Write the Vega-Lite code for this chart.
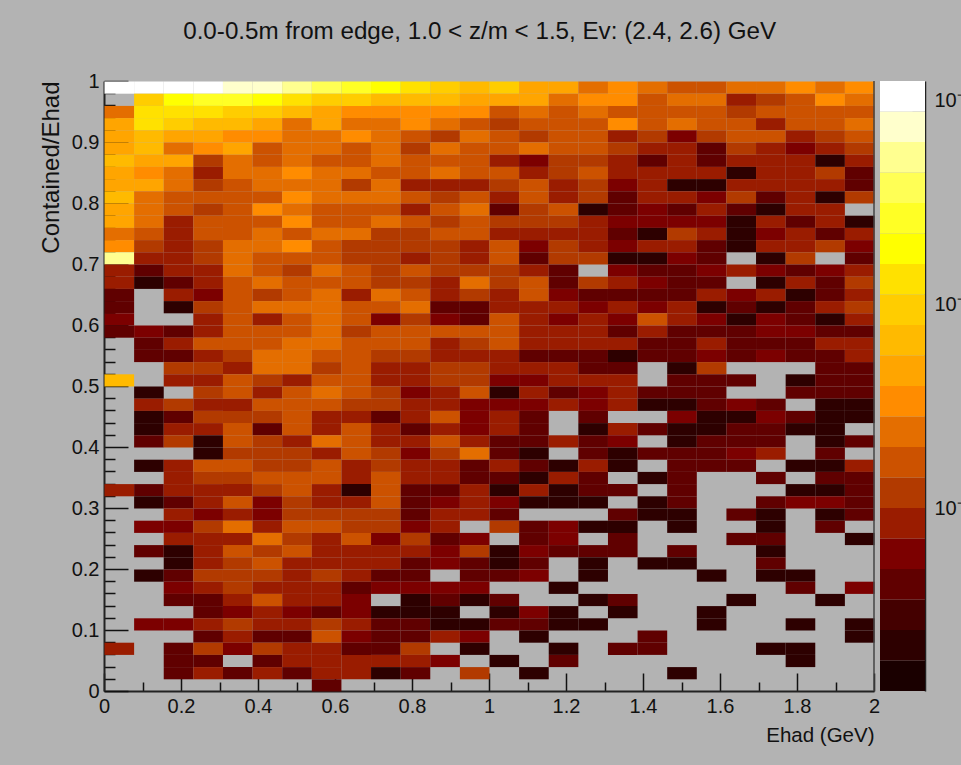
{"$schema":"https://vega.github.io/schema/vega-lite/v6.json","background":"#b3b3b3","padding":{"left":39,"top":19,"right":0,"bottom":26},
"title":{"text":"0.0-0.5m from edge, 1.0 < z/m < 1.5, Ev: (2.4, 2.6) GeV","font":"Liberation Sans","fontSize":24.2,"fontWeight":"normal","color":"#111","anchor":"start","frame":"bounds","dx":144,"offset":27},
"config":{"view":{"stroke":null},"axis":{"labelFont":"Liberation Sans","titleFont":"Liberation Sans","labelColor":"#111","titleColor":"#111","tickColor":"#111","domainColor":"#222","domainWidth":2,"tickWidth":1.5,"grid":false,"labelFontSize":20,"titleFontWeight":"normal","zindex":1}},
"spacing":-2,
"hconcat":[{"width":770,"height":610,
"layer":[{"data":{"values":[
{"x":0.04,"y":0.99,"v":0.105},{"x":0.12,"y":0.99,"v":0.105},{"x":0.19,"y":0.99,"v":0.105},{"x":0.27,"y":0.99,"v":0.105},{"x":0.35,"y":0.99,"v":0.0745},{"x":0.42,"y":0.99,"v":0.0745},{"x":0.5,"y":0.99,"v":0.0528},{"x":0.58,"y":0.99,"v":0.0374},{"x":0.65,"y":0.99,"v":0.0265},{"x":0.73,"y":0.99,"v":0.0188},{"x":0.81,"y":0.99,"v":0.0133},{"x":0.88,"y":0.99,"v":0.00942},{"x":0.96,"y":0.99,"v":0.00667},{"x":1.04,"y":0.99,"v":0.00942},{"x":1.12,"y":0.99,"v":0.00472},{"x":1.19,"y":0.99,"v":0.00472},{"x":1.27,"y":0.99,"v":0.00237},{"x":1.35,"y":0.99,"v":0.00334},{"x":1.42,"y":0.99,"v":0.00237},{"x":1.5,"y":0.99,"v":0.00168},{"x":1.58,"y":0.99,"v":0.00168},{"x":1.65,"y":0.99,"v":0.00237},{"x":1.73,"y":0.99,"v":0.00237},{"x":1.81,"y":0.99,"v":0.00334},{"x":1.88,"y":0.99,"v":0.00237},{"x":1.96,"y":0.99,"v":0.00334},
{"x":0.12,"y":0.97,"v":0.00942},{"x":0.19,"y":0.97,"v":0.0188},{"x":0.27,"y":0.97,"v":0.0265},{"x":0.35,"y":0.97,"v":0.0265},{"x":0.42,"y":0.97,"v":0.0188},{"x":0.5,"y":0.97,"v":0.0133},{"x":0.58,"y":0.97,"v":0.00942},{"x":0.65,"y":0.97,"v":0.00942},{"x":0.73,"y":0.97,"v":0.00667},{"x":0.81,"y":0.97,"v":0.00667},{"x":0.88,"y":0.97,"v":0.00667},{"x":0.96,"y":0.97,"v":0.00472},{"x":1.04,"y":0.97,"v":0.00472},{"x":1.12,"y":0.97,"v":0.00472},{"x":1.19,"y":0.97,"v":0.00237},{"x":1.27,"y":0.97,"v":0.00334},{"x":1.35,"y":0.97,"v":0.00334},{"x":1.42,"y":0.97,"v":0.00168},{"x":1.5,"y":0.97,"v":0.00237},{"x":1.58,"y":0.97,"v":0.00237},{"x":1.65,"y":0.97,"v":0.00084},{"x":1.73,"y":0.97,"v":0.00119},{"x":1.81,"y":0.97,"v":0.00168},{"x":1.88,"y":0.97,"v":0.00334},{"x":1.96,"y":0.97,"v":0.00237},
{"x":0.04,"y":0.95,"v":0.00237},{"x":0.12,"y":0.95,"v":0.0133},{"x":0.19,"y":0.95,"v":0.0133},{"x":0.27,"y":0.95,"v":0.0133},{"x":0.35,"y":0.95,"v":0.00942},{"x":0.42,"y":0.95,"v":0.00942},{"x":0.5,"y":0.95,"v":0.00667},{"x":0.58,"y":0.95,"v":0.00472},{"x":0.65,"y":0.95,"v":0.00334},{"x":0.73,"y":0.95,"v":0.00334},{"x":0.81,"y":0.95,"v":0.00334},{"x":0.88,"y":0.95,"v":0.00334},{"x":0.96,"y":0.95,"v":0.00334},{"x":1.04,"y":0.95,"v":0.00168},{"x":1.12,"y":0.95,"v":0.00237},{"x":1.19,"y":0.95,"v":0.00168},{"x":1.27,"y":0.95,"v":0.00237},{"x":1.35,"y":0.95,"v":0.00168},{"x":1.42,"y":0.95,"v":0.00168},{"x":1.5,"y":0.95,"v":0.00168},{"x":1.58,"y":0.95,"v":0.00168},{"x":1.65,"y":0.95,"v":0.00119},{"x":1.73,"y":0.95,"v":0.00168},{"x":1.81,"y":0.95,"v":0.00168},{"x":1.88,"y":0.95,"v":0.00168},{"x":1.96,"y":0.95,"v":0.00168},
{"x":0.04,"y":0.93,"v":0.00472},{"x":0.12,"y":0.93,"v":0.0133},{"x":0.19,"y":0.93,"v":0.00942},{"x":0.27,"y":0.93,"v":0.00667},{"x":0.35,"y":0.93,"v":0.00667},{"x":0.42,"y":0.93,"v":0.00472},{"x":0.5,"y":0.93,"v":0.00237},{"x":0.58,"y":0.93,"v":0.00472},{"x":0.65,"y":0.93,"v":0.00237},{"x":0.73,"y":0.93,"v":0.00237},{"x":0.81,"y":0.93,"v":0.00334},{"x":0.88,"y":0.93,"v":0.00237},{"x":0.96,"y":0.93,"v":0.00168},{"x":1.04,"y":0.93,"v":0.00119},{"x":1.12,"y":0.93,"v":0.00168},{"x":1.19,"y":0.93,"v":0.00168},{"x":1.27,"y":0.93,"v":0.00168},{"x":1.35,"y":0.93,"v":0.00334},{"x":1.42,"y":0.93,"v":0.00168},{"x":1.5,"y":0.93,"v":0.00237},{"x":1.58,"y":0.93,"v":0.00168},{"x":1.65,"y":0.93,"v":0.00168},{"x":1.73,"y":0.93,"v":0.00084},{"x":1.81,"y":0.93,"v":0.00168},{"x":1.88,"y":0.93,"v":0.00168},{"x":1.96,"y":0.93,"v":0.00237},
{"x":0.04,"y":0.91,"v":0.00472},{"x":0.12,"y":0.91,"v":0.00667},{"x":0.19,"y":0.91,"v":0.00472},{"x":0.27,"y":0.91,"v":0.00472},{"x":0.35,"y":0.91,"v":0.00334},{"x":0.42,"y":0.91,"v":0.00334},{"x":0.5,"y":0.91,"v":0.00237},{"x":0.58,"y":0.91,"v":0.00237},{"x":0.65,"y":0.91,"v":0.00334},{"x":0.73,"y":0.91,"v":0.00237},{"x":0.81,"y":0.91,"v":0.00168},{"x":0.88,"y":0.91,"v":0.00119},{"x":0.96,"y":0.91,"v":0.00237},{"x":1.04,"y":0.91,"v":0.00168},{"x":1.12,"y":0.91,"v":0.00119},{"x":1.19,"y":0.91,"v":0.00168},{"x":1.27,"y":0.91,"v":0.00168},{"x":1.35,"y":0.91,"v":0.00084},{"x":1.42,"y":0.91,"v":0.00119},{"x":1.5,"y":0.91,"v":0.0006},{"x":1.58,"y":0.91,"v":0.00119},{"x":1.65,"y":0.91,"v":0.00168},{"x":1.73,"y":0.91,"v":0.00168},{"x":1.81,"y":0.91,"v":0.00084},{"x":1.88,"y":0.91,"v":0.00119},{"x":1.96,"y":0.91,"v":0.00168},
{"x":0.04,"y":0.89,"v":0.00472},{"x":0.12,"y":0.89,"v":0.00667},{"x":0.19,"y":0.89,"v":0.00237},{"x":0.27,"y":0.89,"v":0.00334},{"x":0.35,"y":0.89,"v":0.00472},{"x":0.42,"y":0.89,"v":0.00168},{"x":0.5,"y":0.89,"v":0.00237},{"x":0.58,"y":0.89,"v":0.00237},{"x":0.65,"y":0.89,"v":0.00168},{"x":0.73,"y":0.89,"v":0.00237},{"x":0.81,"y":0.89,"v":0.00119},{"x":0.88,"y":0.89,"v":0.00237},{"x":0.96,"y":0.89,"v":0.00168},{"x":1.04,"y":0.89,"v":0.00168},{"x":1.12,"y":0.89,"v":0.00237},{"x":1.19,"y":0.89,"v":0.00168},{"x":1.27,"y":0.89,"v":0.00168},{"x":1.35,"y":0.89,"v":0.00119},{"x":1.42,"y":0.89,"v":0.00084},{"x":1.5,"y":0.89,"v":0.00084},{"x":1.58,"y":0.89,"v":0.00042},{"x":1.65,"y":0.89,"v":0.00119},{"x":1.73,"y":0.89,"v":0.00084},{"x":1.81,"y":0.89,"v":0.0006},{"x":1.88,"y":0.89,"v":0.00084},{"x":1.96,"y":0.89,"v":0.00119},
{"x":0.04,"y":0.87,"v":0.00667},{"x":0.12,"y":0.87,"v":0.00472},{"x":0.19,"y":0.87,"v":0.00472},{"x":0.27,"y":0.87,"v":0.00119},{"x":0.35,"y":0.87,"v":0.00237},{"x":0.42,"y":0.87,"v":0.00168},{"x":0.5,"y":0.87,"v":0.00237},{"x":0.58,"y":0.87,"v":0.00168},{"x":0.65,"y":0.87,"v":0.00168},{"x":0.73,"y":0.87,"v":0.00237},{"x":0.81,"y":0.87,"v":0.00168},{"x":0.88,"y":0.87,"v":0.00168},{"x":0.96,"y":0.87,"v":0.00168},{"x":1.04,"y":0.87,"v":0.00084},{"x":1.12,"y":0.87,"v":0.0006},{"x":1.19,"y":0.87,"v":0.00119},{"x":1.27,"y":0.87,"v":0.00119},{"x":1.35,"y":0.87,"v":0.00084},{"x":1.42,"y":0.87,"v":0.00042},{"x":1.5,"y":0.87,"v":0.00084},{"x":1.58,"y":0.87,"v":0.00042},{"x":1.65,"y":0.87,"v":0.00084},{"x":1.73,"y":0.87,"v":0.00084},{"x":1.81,"y":0.87,"v":0.00084},{"x":1.88,"y":0.87,"v":0.00021},{"x":1.96,"y":0.87,"v":0.00084},
{"x":0.04,"y":0.85,"v":0.00472},{"x":0.12,"y":0.85,"v":0.00334},{"x":0.19,"y":0.85,"v":0.00237},{"x":0.27,"y":0.85,"v":0.00084},{"x":0.35,"y":0.85,"v":0.00237},{"x":0.42,"y":0.85,"v":0.00237},{"x":0.5,"y":0.85,"v":0.00334},{"x":0.58,"y":0.85,"v":0.00237},{"x":0.65,"y":0.85,"v":0.00237},{"x":0.73,"y":0.85,"v":0.00168},{"x":0.81,"y":0.85,"v":0.00168},{"x":0.88,"y":0.85,"v":0.00237},{"x":0.96,"y":0.85,"v":0.00168},{"x":1.04,"y":0.85,"v":0.00168},{"x":1.12,"y":0.85,"v":0.00084},{"x":1.19,"y":0.85,"v":0.00119},{"x":1.27,"y":0.85,"v":0.00168},{"x":1.35,"y":0.85,"v":0.00084},{"x":1.42,"y":0.85,"v":0.00084},{"x":1.5,"y":0.85,"v":0.00084},{"x":1.58,"y":0.85,"v":0.00084},{"x":1.65,"y":0.85,"v":0.00021},{"x":1.73,"y":0.85,"v":0.00084},{"x":1.81,"y":0.85,"v":0.00084},{"x":1.88,"y":0.85,"v":0.00119},{"x":1.96,"y":0.85,"v":0.00042},
{"x":0.04,"y":0.83,"v":0.00472},{"x":0.12,"y":0.83,"v":0.00472},{"x":0.19,"y":0.83,"v":0.00237},{"x":0.27,"y":0.83,"v":0.00119},{"x":0.35,"y":0.83,"v":0.00168},{"x":0.42,"y":0.83,"v":0.00237},{"x":0.5,"y":0.83,"v":0.00237},{"x":0.58,"y":0.83,"v":0.00237},{"x":0.65,"y":0.83,"v":0.00119},{"x":0.73,"y":0.83,"v":0.00237},{"x":0.81,"y":0.83,"v":0.00084},{"x":0.88,"y":0.83,"v":0.00084},{"x":0.96,"y":0.83,"v":0.00084},{"x":1.04,"y":0.83,"v":0.00119},{"x":1.12,"y":0.83,"v":0.00168},{"x":1.19,"y":0.83,"v":0.00084},{"x":1.27,"y":0.83,"v":0.00119},{"x":1.35,"y":0.83,"v":0.0006},{"x":1.42,"y":0.83,"v":0.00084},{"x":1.5,"y":0.83,"v":0.00021},{"x":1.58,"y":0.83,"v":0.00021},{"x":1.65,"y":0.83,"v":0.00084},{"x":1.73,"y":0.83,"v":0.00084},{"x":1.81,"y":0.83,"v":0.00084},{"x":1.88,"y":0.83,"v":0.00084},{"x":1.96,"y":0.83,"v":0.00042},
{"x":0.04,"y":0.81,"v":0.00667},{"x":0.12,"y":0.81,"v":0.00237},{"x":0.19,"y":0.81,"v":0.00168},{"x":0.27,"y":0.81,"v":0.00168},{"x":0.35,"y":0.81,"v":0.00168},{"x":0.42,"y":0.81,"v":0.00168},{"x":0.5,"y":0.81,"v":0.00334},{"x":0.58,"y":0.81,"v":0.00237},{"x":0.65,"y":0.81,"v":0.00237},{"x":0.73,"y":0.81,"v":0.00237},{"x":0.81,"y":0.81,"v":0.00168},{"x":0.88,"y":0.81,"v":0.00119},{"x":0.96,"y":0.81,"v":0.00168},{"x":1.04,"y":0.81,"v":0.00084},{"x":1.12,"y":0.81,"v":0.00168},{"x":1.19,"y":0.81,"v":0.00084},{"x":1.27,"y":0.81,"v":0.00119},{"x":1.35,"y":0.81,"v":0.00042},{"x":1.42,"y":0.81,"v":0.00084},{"x":1.5,"y":0.81,"v":0.00084},{"x":1.58,"y":0.81,"v":0.0006},{"x":1.65,"y":0.81,"v":0.00119},{"x":1.73,"y":0.81,"v":0.00042},{"x":1.81,"y":0.81,"v":0.00084},{"x":1.88,"y":0.81,"v":0.00021},{"x":1.96,"y":0.81,"v":0.00119},
{"x":0.04,"y":0.79,"v":0.00472},{"x":0.12,"y":0.79,"v":0.00237},{"x":0.19,"y":0.79,"v":0.00168},{"x":0.27,"y":0.79,"v":0.00119},{"x":0.35,"y":0.79,"v":0.00168},{"x":0.42,"y":0.79,"v":0.00334},{"x":0.5,"y":0.79,"v":0.00237},{"x":0.58,"y":0.79,"v":0.00168},{"x":0.65,"y":0.79,"v":0.00168},{"x":0.73,"y":0.79,"v":0.00168},{"x":0.81,"y":0.79,"v":0.00084},{"x":0.88,"y":0.79,"v":0.00168},{"x":0.96,"y":0.79,"v":0.00237},{"x":1.04,"y":0.79,"v":0.00042},{"x":1.12,"y":0.79,"v":0.00119},{"x":1.19,"y":0.79,"v":0.00168},{"x":1.27,"y":0.79,"v":0.00021},{"x":1.35,"y":0.79,"v":0.00042},{"x":1.42,"y":0.79,"v":0.0006},{"x":1.5,"y":0.79,"v":0.00042},{"x":1.58,"y":0.79,"v":0.00084},{"x":1.65,"y":0.79,"v":0.00042},{"x":1.73,"y":0.79,"v":0.00021},{"x":1.81,"y":0.79,"v":0.00084},{"x":1.88,"y":0.79,"v":0.00084},
{"x":0.04,"y":0.77,"v":0.00472},{"x":0.12,"y":0.77,"v":0.00237},{"x":0.19,"y":0.77,"v":0.00084},{"x":0.27,"y":0.77,"v":0.00168},{"x":0.35,"y":0.77,"v":0.00168},{"x":0.42,"y":0.77,"v":0.00168},{"x":0.5,"y":0.77,"v":0.00334},{"x":0.58,"y":0.77,"v":0.00168},{"x":0.65,"y":0.77,"v":0.00168},{"x":0.73,"y":0.77,"v":0.00237},{"x":0.81,"y":0.77,"v":0.00168},{"x":0.88,"y":0.77,"v":0.00119},{"x":0.96,"y":0.77,"v":0.00168},{"x":1.04,"y":0.77,"v":0.00119},{"x":1.12,"y":0.77,"v":0.00119},{"x":1.19,"y":0.77,"v":0.00119},{"x":1.27,"y":0.77,"v":0.00084},{"x":1.35,"y":0.77,"v":0.0006},{"x":1.42,"y":0.77,"v":0.0006},{"x":1.5,"y":0.77,"v":0.0006},{"x":1.58,"y":0.77,"v":0.0006},{"x":1.65,"y":0.77,"v":0.00021},{"x":1.73,"y":0.77,"v":0.00084},{"x":1.81,"y":0.77,"v":0.00042},{"x":1.88,"y":0.77,"v":0.00084},{"x":1.96,"y":0.77,"v":0.00021},
{"x":0.04,"y":0.75,"v":0.00237},{"x":0.12,"y":0.75,"v":0.00168},{"x":0.19,"y":0.75,"v":0.00084},{"x":0.27,"y":0.75,"v":0.00168},{"x":0.35,"y":0.75,"v":0.00168},{"x":0.42,"y":0.75,"v":0.00237},{"x":0.5,"y":0.75,"v":0.00168},{"x":0.58,"y":0.75,"v":0.00237},{"x":0.65,"y":0.75,"v":0.00237},{"x":0.73,"y":0.75,"v":0.00119},{"x":0.81,"y":0.75,"v":0.00119},{"x":0.88,"y":0.75,"v":0.00168},{"x":0.96,"y":0.75,"v":0.00168},{"x":1.04,"y":0.75,"v":0.00084},{"x":1.12,"y":0.75,"v":0.00084},{"x":1.19,"y":0.75,"v":0.00084},{"x":1.27,"y":0.75,"v":0.00084},{"x":1.35,"y":0.75,"v":0.00042},{"x":1.42,"y":0.75,"v":0.00021},{"x":1.5,"y":0.75,"v":0.00119},{"x":1.58,"y":0.75,"v":0.00084},{"x":1.65,"y":0.75,"v":0.00021},{"x":1.73,"y":0.75,"v":0.0006},{"x":1.81,"y":0.75,"v":0.00084},{"x":1.88,"y":0.75,"v":0.00042},{"x":1.96,"y":0.75,"v":0.00084},
{"x":0.04,"y":0.73,"v":0.00334},{"x":0.12,"y":0.73,"v":0.00119},{"x":0.19,"y":0.73,"v":0.00084},{"x":0.27,"y":0.73,"v":0.00119},{"x":0.35,"y":0.73,"v":0.00237},{"x":0.42,"y":0.73,"v":0.00237},{"x":0.5,"y":0.73,"v":0.00334},{"x":0.58,"y":0.73,"v":0.00168},{"x":0.65,"y":0.73,"v":0.00119},{"x":0.73,"y":0.73,"v":0.00119},{"x":0.81,"y":0.73,"v":0.00119},{"x":0.88,"y":0.73,"v":0.00119},{"x":0.96,"y":0.73,"v":0.00084},{"x":1.04,"y":0.73,"v":0.00168},{"x":1.12,"y":0.73,"v":0.0006},{"x":1.19,"y":0.73,"v":0.00119},{"x":1.27,"y":0.73,"v":0.00084},{"x":1.35,"y":0.73,"v":0.0006},{"x":1.42,"y":0.73,"v":0.00084},{"x":1.5,"y":0.73,"v":0.00084},{"x":1.58,"y":0.73,"v":0.00042},{"x":1.65,"y":0.73,"v":0.00021},{"x":1.73,"y":0.73,"v":0.00084},{"x":1.81,"y":0.73,"v":0.00084},{"x":1.88,"y":0.73,"v":0.00119},{"x":1.96,"y":0.73,"v":0.0006},
{"x":0.04,"y":0.71,"v":0.0528},{"x":0.12,"y":0.71,"v":0.00084},{"x":0.19,"y":0.71,"v":0.00084},{"x":0.27,"y":0.71,"v":0.00119},{"x":0.35,"y":0.71,"v":0.00237},{"x":0.42,"y":0.71,"v":0.00168},{"x":0.5,"y":0.71,"v":0.00168},{"x":0.58,"y":0.71,"v":0.00168},{"x":0.65,"y":0.71,"v":0.00119},{"x":0.73,"y":0.71,"v":0.00119},{"x":0.81,"y":0.71,"v":0.00084},{"x":0.88,"y":0.71,"v":0.00119},{"x":0.96,"y":0.71,"v":0.00084},{"x":1.04,"y":0.71,"v":0.00168},{"x":1.12,"y":0.71,"v":0.00042},{"x":1.19,"y":0.71,"v":0.00119},{"x":1.27,"y":0.71,"v":0.00119},{"x":1.35,"y":0.71,"v":0.00021},{"x":1.42,"y":0.71,"v":0.00021},{"x":1.5,"y":0.71,"v":0.0006},{"x":1.58,"y":0.71,"v":0.00042},{"x":1.73,"y":0.71,"v":0.00021},{"x":1.81,"y":0.71,"v":0.00119},{"x":1.96,"y":0.71,"v":0.00042},
{"x":0.04,"y":0.69,"v":0.00084},{"x":0.12,"y":0.69,"v":0.00042},{"x":0.19,"y":0.69,"v":0.00084},{"x":0.27,"y":0.69,"v":0.00084},{"x":0.35,"y":0.69,"v":0.00237},{"x":0.42,"y":0.69,"v":0.00168},{"x":0.5,"y":0.69,"v":0.00119},{"x":0.58,"y":0.69,"v":0.00237},{"x":0.65,"y":0.69,"v":0.00168},{"x":0.73,"y":0.69,"v":0.00119},{"x":0.81,"y":0.69,"v":0.00168},{"x":0.88,"y":0.69,"v":0.00119},{"x":0.96,"y":0.69,"v":0.00119},{"x":1.04,"y":0.69,"v":0.00119},{"x":1.12,"y":0.69,"v":0.00084},{"x":1.19,"y":0.69,"v":0.00042},{"x":1.35,"y":0.69,"v":0.0006},{"x":1.42,"y":0.69,"v":0.00042},{"x":1.5,"y":0.69,"v":0.00042},{"x":1.58,"y":0.69,"v":0.0006},{"x":1.65,"y":0.69,"v":0.00084},{"x":1.73,"y":0.69,"v":0.0006},{"x":1.81,"y":0.69,"v":0.00042},{"x":1.88,"y":0.69,"v":0.0006},{"x":1.96,"y":0.69,"v":0.00084},
{"x":0.04,"y":0.67,"v":0.00084},{"x":0.12,"y":0.67,"v":0.00021},{"x":0.19,"y":0.67,"v":0.00042},{"x":0.27,"y":0.67,"v":0.00084},{"x":0.35,"y":0.67,"v":0.00168},{"x":0.42,"y":0.67,"v":0.00237},{"x":0.5,"y":0.67,"v":0.00168},{"x":0.58,"y":0.67,"v":0.00168},{"x":0.65,"y":0.67,"v":0.00168},{"x":0.73,"y":0.67,"v":0.00119},{"x":0.81,"y":0.67,"v":0.00119},{"x":0.88,"y":0.67,"v":0.00084},{"x":0.96,"y":0.67,"v":0.00237},{"x":1.04,"y":0.67,"v":0.00119},{"x":1.12,"y":0.67,"v":0.00168},{"x":1.19,"y":0.67,"v":0.00042},{"x":1.27,"y":0.67,"v":0.00119},{"x":1.35,"y":0.67,"v":0.00084},{"x":1.42,"y":0.67,"v":0.0006},{"x":1.5,"y":0.67,"v":0.00042},{"x":1.58,"y":0.67,"v":0.00042},{"x":1.73,"y":0.67,"v":0.00021},{"x":1.81,"y":0.67,"v":0.00084},{"x":1.88,"y":0.67,"v":0.00042},{"x":1.96,"y":0.67,"v":0.00119},
{"x":0.04,"y":0.65,"v":0.00042},{"x":0.19,"y":0.65,"v":0.00084},{"x":0.27,"y":0.65,"v":0.0006},{"x":0.35,"y":0.65,"v":0.00168},{"x":0.42,"y":0.65,"v":0.00119},{"x":0.5,"y":0.65,"v":0.00168},{"x":0.58,"y":0.65,"v":0.00237},{"x":0.65,"y":0.65,"v":0.00084},{"x":0.73,"y":0.65,"v":0.00237},{"x":0.81,"y":0.65,"v":0.00168},{"x":0.88,"y":0.65,"v":0.00084},{"x":0.96,"y":0.65,"v":0.00119},{"x":1.04,"y":0.65,"v":0.00084},{"x":1.12,"y":0.65,"v":0.00168},{"x":1.19,"y":0.65,"v":0.0006},{"x":1.27,"y":0.65,"v":0.00042},{"x":1.35,"y":0.65,"v":0.00042},{"x":1.42,"y":0.65,"v":0.00042},{"x":1.5,"y":0.65,"v":0.00042},{"x":1.58,"y":0.65,"v":0.00084},{"x":1.65,"y":0.65,"v":0.0006},{"x":1.73,"y":0.65,"v":0.00084},{"x":1.81,"y":0.65,"v":0.00021},{"x":1.88,"y":0.65,"v":0.00042},{"x":1.96,"y":0.65,"v":0.00084},
{"x":0.04,"y":0.63,"v":0.00042},{"x":0.19,"y":0.63,"v":0.00021},{"x":0.27,"y":0.63,"v":0.00119},{"x":0.35,"y":0.63,"v":0.00168},{"x":0.42,"y":0.63,"v":0.00237},{"x":0.5,"y":0.63,"v":0.00237},{"x":0.58,"y":0.63,"v":0.00237},{"x":0.65,"y":0.63,"v":0.00168},{"x":0.73,"y":0.63,"v":0.00168},{"x":0.81,"y":0.63,"v":0.00237},{"x":0.88,"y":0.63,"v":0.00042},{"x":0.96,"y":0.63,"v":0.00042},{"x":1.04,"y":0.63,"v":0.00084},{"x":1.12,"y":0.63,"v":0.00084},{"x":1.19,"y":0.63,"v":0.00084},{"x":1.27,"y":0.63,"v":0.0006},{"x":1.35,"y":0.63,"v":0.00084},{"x":1.42,"y":0.63,"v":0.0006},{"x":1.5,"y":0.63,"v":0.00084},{"x":1.58,"y":0.63,"v":0.00021},{"x":1.65,"y":0.63,"v":0.00042},{"x":1.73,"y":0.63,"v":0.00021},{"x":1.81,"y":0.63,"v":0.00042},{"x":1.88,"y":0.63,"v":0.00084},{"x":1.96,"y":0.63,"v":0.00119},
{"x":0.04,"y":0.61,"v":0.0006},{"x":0.27,"y":0.61,"v":0.00084},{"x":0.35,"y":0.61,"v":0.00168},{"x":0.42,"y":0.61,"v":0.00084},{"x":0.5,"y":0.61,"v":0.00168},{"x":0.58,"y":0.61,"v":0.00237},{"x":0.65,"y":0.61,"v":0.00168},{"x":0.73,"y":0.61,"v":0.0006},{"x":0.81,"y":0.61,"v":0.00119},{"x":0.88,"y":0.61,"v":0.0006},{"x":0.96,"y":0.61,"v":0.00042},{"x":1.04,"y":0.61,"v":0.00168},{"x":1.12,"y":0.61,"v":0.00084},{"x":1.19,"y":0.61,"v":0.0006},{"x":1.27,"y":0.61,"v":0.00084},{"x":1.35,"y":0.61,"v":0.0006},{"x":1.42,"y":0.61,"v":0.00168},{"x":1.5,"y":0.61,"v":0.00084},{"x":1.58,"y":0.61,"v":0.0006},{"x":1.65,"y":0.61,"v":0.00021},{"x":1.73,"y":0.61,"v":0.0006},{"x":1.81,"y":0.61,"v":0.00042},{"x":1.88,"y":0.61,"v":0.00021},{"x":1.96,"y":0.61,"v":0.00084},
{"x":0.04,"y":0.59,"v":0.00042},{"x":0.12,"y":0.59,"v":0.0006},{"x":0.19,"y":0.59,"v":0.00042},{"x":0.27,"y":0.59,"v":0.00084},{"x":0.35,"y":0.59,"v":0.00168},{"x":0.42,"y":0.59,"v":0.00168},{"x":0.5,"y":0.59,"v":0.00168},{"x":0.58,"y":0.59,"v":0.00237},{"x":0.65,"y":0.59,"v":0.00119},{"x":0.73,"y":0.59,"v":0.00168},{"x":0.81,"y":0.59,"v":0.00168},{"x":0.88,"y":0.59,"v":0.00168},{"x":0.96,"y":0.59,"v":0.00168},{"x":1.04,"y":0.59,"v":0.00168},{"x":1.12,"y":0.59,"v":0.00084},{"x":1.19,"y":0.59,"v":0.00084},{"x":1.27,"y":0.59,"v":0.00084},{"x":1.35,"y":0.59,"v":0.00042},{"x":1.42,"y":0.59,"v":0.00084},{"x":1.5,"y":0.59,"v":0.00042},{"x":1.58,"y":0.59,"v":0.00042},{"x":1.65,"y":0.59,"v":0.00042},{"x":1.73,"y":0.59,"v":0.0006},{"x":1.81,"y":0.59,"v":0.0006},{"x":1.88,"y":0.59,"v":0.00042},{"x":1.96,"y":0.59,"v":0.00042},
{"x":0.12,"y":0.57,"v":0.00042},{"x":0.19,"y":0.57,"v":0.00084},{"x":0.27,"y":0.57,"v":0.00168},{"x":0.35,"y":0.57,"v":0.00168},{"x":0.42,"y":0.57,"v":0.00168},{"x":0.5,"y":0.57,"v":0.00237},{"x":0.58,"y":0.57,"v":0.00237},{"x":0.65,"y":0.57,"v":0.00168},{"x":0.73,"y":0.57,"v":0.00168},{"x":0.81,"y":0.57,"v":0.00168},{"x":0.88,"y":0.57,"v":0.00084},{"x":0.96,"y":0.57,"v":0.00119},{"x":1.04,"y":0.57,"v":0.00168},{"x":1.12,"y":0.57,"v":0.00084},{"x":1.19,"y":0.57,"v":0.00084},{"x":1.27,"y":0.57,"v":0.00084},{"x":1.35,"y":0.57,"v":0.00084},{"x":1.42,"y":0.57,"v":0.00042},{"x":1.5,"y":0.57,"v":0.00042},{"x":1.58,"y":0.57,"v":0.00084},{"x":1.65,"y":0.57,"v":0.00042},{"x":1.73,"y":0.57,"v":0.00042},{"x":1.81,"y":0.57,"v":0.00042},{"x":1.88,"y":0.57,"v":0.00084},{"x":1.96,"y":0.57,"v":0.00084},
{"x":0.12,"y":0.55,"v":0.00042},{"x":0.19,"y":0.55,"v":0.00042},{"x":0.27,"y":0.55,"v":0.00084},{"x":0.35,"y":0.55,"v":0.00119},{"x":0.42,"y":0.55,"v":0.00237},{"x":0.5,"y":0.55,"v":0.00237},{"x":0.58,"y":0.55,"v":0.00168},{"x":0.65,"y":0.55,"v":0.00168},{"x":0.73,"y":0.55,"v":0.00119},{"x":0.81,"y":0.55,"v":0.00119},{"x":0.88,"y":0.55,"v":0.00084},{"x":0.96,"y":0.55,"v":0.00084},{"x":1.04,"y":0.55,"v":0.00084},{"x":1.12,"y":0.55,"v":0.00042},{"x":1.19,"y":0.55,"v":0.00042},{"x":1.27,"y":0.55,"v":0.00042},{"x":1.35,"y":0.55,"v":0.00021},{"x":1.42,"y":0.55,"v":0.00042},{"x":1.5,"y":0.55,"v":0.00042},{"x":1.58,"y":0.55,"v":0.0006},{"x":1.65,"y":0.55,"v":0.00042},{"x":1.73,"y":0.55,"v":0.0006},{"x":1.81,"y":0.55,"v":0.00042},{"x":1.88,"y":0.55,"v":0.00042},{"x":1.96,"y":0.55,"v":0.00084},
{"x":0.19,"y":0.53,"v":0.00119},{"x":0.27,"y":0.53,"v":0.00119},{"x":0.35,"y":0.53,"v":0.00084},{"x":0.42,"y":0.53,"v":0.00237},{"x":0.5,"y":0.53,"v":0.00237},{"x":0.58,"y":0.53,"v":0.00119},{"x":0.65,"y":0.53,"v":0.00168},{"x":0.73,"y":0.53,"v":0.00084},{"x":0.81,"y":0.53,"v":0.00084},{"x":0.88,"y":0.53,"v":0.00119},{"x":0.96,"y":0.53,"v":0.00119},{"x":1.04,"y":0.53,"v":0.00084},{"x":1.12,"y":0.53,"v":0.00084},{"x":1.19,"y":0.53,"v":0.00084},{"x":1.27,"y":0.53,"v":0.00042},{"x":1.35,"y":0.53,"v":0.00042},{"x":1.5,"y":0.53,"v":0.00021},{"x":1.58,"y":0.53,"v":0.00119},{"x":1.88,"y":0.53,"v":0.00042},{"x":1.96,"y":0.53,"v":0.00042},
{"x":0.04,"y":0.51,"v":0.00667},{"x":0.19,"y":0.51,"v":0.00084},{"x":0.27,"y":0.51,"v":0.00084},{"x":0.35,"y":0.51,"v":0.00168},{"x":0.42,"y":0.51,"v":0.00119},{"x":0.5,"y":0.51,"v":0.00084},{"x":0.58,"y":0.51,"v":0.00168},{"x":0.65,"y":0.51,"v":0.00168},{"x":0.73,"y":0.51,"v":0.00084},{"x":0.81,"y":0.51,"v":0.00084},{"x":0.88,"y":0.51,"v":0.00119},{"x":0.96,"y":0.51,"v":0.00119},{"x":1.04,"y":0.51,"v":0.0006},{"x":1.12,"y":0.51,"v":0.0006},{"x":1.19,"y":0.51,"v":0.00084},{"x":1.27,"y":0.51,"v":0.00084},{"x":1.35,"y":0.51,"v":0.00084},{"x":1.5,"y":0.51,"v":0.00042},{"x":1.58,"y":0.51,"v":0.00042},{"x":1.65,"y":0.51,"v":0.00042},{"x":1.81,"y":0.51,"v":0.00021},{"x":1.88,"y":0.51,"v":0.00042},{"x":1.96,"y":0.51,"v":0.00042},
{"x":0.12,"y":0.49,"v":0.00021},{"x":0.27,"y":0.49,"v":0.00119},{"x":0.35,"y":0.49,"v":0.00168},{"x":0.42,"y":0.49,"v":0.00084},{"x":0.5,"y":0.49,"v":0.00168},{"x":0.58,"y":0.49,"v":0.00237},{"x":0.65,"y":0.49,"v":0.00168},{"x":0.73,"y":0.49,"v":0.00119},{"x":0.81,"y":0.49,"v":0.0006},{"x":0.88,"y":0.49,"v":0.00084},{"x":0.96,"y":0.49,"v":0.00168},{"x":1.04,"y":0.49,"v":0.00021},{"x":1.12,"y":0.49,"v":0.00084},{"x":1.19,"y":0.49,"v":0.00042},{"x":1.27,"y":0.49,"v":0.0006},{"x":1.35,"y":0.49,"v":0.00084},{"x":1.42,"y":0.49,"v":0.00042},{"x":1.5,"y":0.49,"v":0.00042},{"x":1.58,"y":0.49,"v":0.00042},{"x":1.81,"y":0.49,"v":0.00042},{"x":1.88,"y":0.49,"v":0.00042},{"x":1.96,"y":0.49,"v":0.00042},
{"x":0.12,"y":0.47,"v":0.00084},{"x":0.19,"y":0.47,"v":0.00119},{"x":0.27,"y":0.47,"v":0.00084},{"x":0.35,"y":0.47,"v":0.00084},{"x":0.42,"y":0.47,"v":0.00168},{"x":0.5,"y":0.47,"v":0.00168},{"x":0.58,"y":0.47,"v":0.00168},{"x":0.65,"y":0.47,"v":0.00119},{"x":0.73,"y":0.47,"v":0.00119},{"x":0.81,"y":0.47,"v":0.00084},{"x":0.88,"y":0.47,"v":0.00084},{"x":0.96,"y":0.47,"v":0.0006},{"x":1.04,"y":0.47,"v":0.0006},{"x":1.12,"y":0.47,"v":0.0006},{"x":1.19,"y":0.47,"v":0.00084},{"x":1.27,"y":0.47,"v":0.0006},{"x":1.35,"y":0.47,"v":0.00084},{"x":1.42,"y":0.47,"v":0.00021},{"x":1.5,"y":0.47,"v":0.00021},{"x":1.58,"y":0.47,"v":0.00042},{"x":1.65,"y":0.47,"v":0.0006},{"x":1.73,"y":0.47,"v":0.00042},{"x":1.88,"y":0.47,"v":0.00021},{"x":1.96,"y":0.47,"v":0.00021},
{"x":0.12,"y":0.45,"v":0.00021},{"x":0.19,"y":0.45,"v":0.00042},{"x":0.27,"y":0.45,"v":0.00119},{"x":0.35,"y":0.45,"v":0.00119},{"x":0.42,"y":0.45,"v":0.00119},{"x":0.5,"y":0.45,"v":0.00168},{"x":0.58,"y":0.45,"v":0.00084},{"x":0.65,"y":0.45,"v":0.00084},{"x":0.73,"y":0.45,"v":0.00042},{"x":0.81,"y":0.45,"v":0.00084},{"x":0.88,"y":0.45,"v":0.00168},{"x":0.96,"y":0.45,"v":0.0006},{"x":1.04,"y":0.45,"v":0.00084},{"x":1.12,"y":0.45,"v":0.00042},{"x":1.27,"y":0.45,"v":0.00042},{"x":1.5,"y":0.45,"v":0.0006},{"x":1.58,"y":0.45,"v":0.00021},{"x":1.65,"y":0.45,"v":0.00021},{"x":1.73,"y":0.45,"v":0.0006},{"x":1.81,"y":0.45,"v":0.00042},{"x":1.88,"y":0.45,"v":0.00021},{"x":1.96,"y":0.45,"v":0.00021},
{"x":0.12,"y":0.43,"v":0.00021},{"x":0.19,"y":0.43,"v":0.00084},{"x":0.27,"y":0.43,"v":0.00084},{"x":0.35,"y":0.43,"v":0.00168},{"x":0.42,"y":0.43,"v":0.00042},{"x":0.5,"y":0.43,"v":0.00168},{"x":0.58,"y":0.43,"v":0.00084},{"x":0.65,"y":0.43,"v":0.00168},{"x":0.73,"y":0.43,"v":0.00084},{"x":0.81,"y":0.43,"v":0.00042},{"x":0.88,"y":0.43,"v":0.00084},{"x":0.96,"y":0.43,"v":0.0006},{"x":1.04,"y":0.43,"v":0.00084},{"x":1.12,"y":0.43,"v":0.00042},{"x":1.27,"y":0.43,"v":0.00021},{"x":1.35,"y":0.43,"v":0.00084},{"x":1.42,"y":0.43,"v":0.00042},{"x":1.5,"y":0.43,"v":0.00021},{"x":1.58,"y":0.43,"v":0.00021},{"x":1.65,"y":0.43,"v":0.00042},{"x":1.73,"y":0.43,"v":0.00042},{"x":1.81,"y":0.43,"v":0.00021},{"x":1.88,"y":0.43,"v":0.00021},
{"x":0.12,"y":0.41,"v":0.00042},{"x":0.19,"y":0.41,"v":0.00119},{"x":0.27,"y":0.41,"v":0.00021},{"x":0.35,"y":0.41,"v":0.00168},{"x":0.42,"y":0.41,"v":0.00119},{"x":0.5,"y":0.41,"v":0.00084},{"x":0.58,"y":0.41,"v":0.00237},{"x":0.65,"y":0.41,"v":0.00168},{"x":0.73,"y":0.41,"v":0.00084},{"x":0.81,"y":0.41,"v":0.00084},{"x":0.88,"y":0.41,"v":0.00168},{"x":0.96,"y":0.41,"v":0.00084},{"x":1.04,"y":0.41,"v":0.00042},{"x":1.12,"y":0.41,"v":0.00042},{"x":1.19,"y":0.41,"v":0.00084},{"x":1.27,"y":0.41,"v":0.00042},{"x":1.35,"y":0.41,"v":0.0006},{"x":1.5,"y":0.41,"v":0.00021},{"x":1.58,"y":0.41,"v":0.00042},{"x":1.65,"y":0.41,"v":0.00042},{"x":1.73,"y":0.41,"v":0.00042},{"x":1.88,"y":0.41,"v":0.00021},{"x":1.96,"y":0.41,"v":0.00042},
{"x":0.27,"y":0.39,"v":0.00021},{"x":0.35,"y":0.39,"v":0.00119},{"x":0.42,"y":0.39,"v":0.00119},{"x":0.5,"y":0.39,"v":0.00119},{"x":0.58,"y":0.39,"v":0.00084},{"x":0.65,"y":0.39,"v":0.00168},{"x":0.73,"y":0.39,"v":0.00119},{"x":0.81,"y":0.39,"v":0.0006},{"x":0.88,"y":0.39,"v":0.00119},{"x":0.96,"y":0.39,"v":0.00237},{"x":1.04,"y":0.39,"v":0.00042},{"x":1.12,"y":0.39,"v":0.00021},{"x":1.27,"y":0.39,"v":0.00042},{"x":1.35,"y":0.39,"v":0.00021},{"x":1.42,"y":0.39,"v":0.00042},{"x":1.5,"y":0.39,"v":0.00042},{"x":1.58,"y":0.39,"v":0.00042},{"x":1.65,"y":0.39,"v":0.0006},{"x":1.73,"y":0.39,"v":0.00084},{"x":1.88,"y":0.39,"v":0.00042},
{"x":0.12,"y":0.37,"v":0.00021},{"x":0.19,"y":0.37,"v":0.00084},{"x":0.27,"y":0.37,"v":0.00168},{"x":0.35,"y":0.37,"v":0.00168},{"x":0.42,"y":0.37,"v":0.00119},{"x":0.5,"y":0.37,"v":0.00119},{"x":0.58,"y":0.37,"v":0.00168},{"x":0.65,"y":0.37,"v":0.00084},{"x":0.73,"y":0.37,"v":0.00119},{"x":0.81,"y":0.37,"v":0.00084},{"x":0.88,"y":0.37,"v":0.00084},{"x":0.96,"y":0.37,"v":0.00042},{"x":1.04,"y":0.37,"v":0.00084},{"x":1.12,"y":0.37,"v":0.00042},{"x":1.19,"y":0.37,"v":0.00021},{"x":1.27,"y":0.37,"v":0.00084},{"x":1.35,"y":0.37,"v":0.00021},{"x":1.5,"y":0.37,"v":0.00042},{"x":1.58,"y":0.37,"v":0.00042},{"x":1.65,"y":0.37,"v":0.00042},{"x":1.81,"y":0.37,"v":0.00021},{"x":1.88,"y":0.37,"v":0.00021},{"x":1.96,"y":0.37,"v":0.00084},
{"x":0.19,"y":0.35,"v":0.00084},{"x":0.27,"y":0.35,"v":0.00119},{"x":0.35,"y":0.35,"v":0.00119},{"x":0.42,"y":0.35,"v":0.00168},{"x":0.5,"y":0.35,"v":0.00168},{"x":0.58,"y":0.35,"v":0.00168},{"x":0.65,"y":0.35,"v":0.00084},{"x":0.73,"y":0.35,"v":0.00168},{"x":0.81,"y":0.35,"v":0.00084},{"x":0.88,"y":0.35,"v":0.00084},{"x":0.96,"y":0.35,"v":0.00042},{"x":1.04,"y":0.35,"v":0.00042},{"x":1.12,"y":0.35,"v":0.00021},{"x":1.19,"y":0.35,"v":0.00084},{"x":1.27,"y":0.35,"v":0.00042},{"x":1.42,"y":0.35,"v":0.00021},{"x":1.5,"y":0.35,"v":0.00042},{"x":1.73,"y":0.35,"v":0.00042},{"x":1.88,"y":0.35,"v":0.00042},{"x":1.96,"y":0.35,"v":0.00042},
{"x":0.04,"y":0.33,"v":0.00084},{"x":0.12,"y":0.33,"v":0.00042},{"x":0.19,"y":0.33,"v":0.00084},{"x":0.27,"y":0.33,"v":0.00084},{"x":0.35,"y":0.33,"v":0.00084},{"x":0.42,"y":0.33,"v":0.00119},{"x":0.5,"y":0.33,"v":0.00168},{"x":0.58,"y":0.33,"v":0.00084},{"x":0.65,"y":0.33,"v":0.00021},{"x":0.73,"y":0.33,"v":0.00168},{"x":0.81,"y":0.33,"v":0.00042},{"x":0.88,"y":0.33,"v":0.00042},{"x":0.96,"y":0.33,"v":0.00084},{"x":1.04,"y":0.33,"v":0.00021},{"x":1.12,"y":0.33,"v":0.00084},{"x":1.19,"y":0.33,"v":0.00021},{"x":1.27,"y":0.33,"v":0.00042},{"x":1.35,"y":0.33,"v":0.00042},{"x":1.5,"y":0.33,"v":0.00042},{"x":1.81,"y":0.33,"v":0.00021},{"x":1.88,"y":0.33,"v":0.00021},{"x":1.96,"y":0.33,"v":0.00042},
{"x":0.12,"y":0.31,"v":0.00021},{"x":0.19,"y":0.31,"v":0.00042},{"x":0.27,"y":0.31,"v":0.00084},{"x":0.35,"y":0.31,"v":0.00168},{"x":0.42,"y":0.31,"v":0.0006},{"x":0.5,"y":0.31,"v":0.00119},{"x":0.58,"y":0.31,"v":0.00084},{"x":0.65,"y":0.31,"v":0.00084},{"x":0.73,"y":0.31,"v":0.00168},{"x":0.81,"y":0.31,"v":0.00042},{"x":0.88,"y":0.31,"v":0.0006},{"x":0.96,"y":0.31,"v":0.00084},{"x":1.04,"y":0.31,"v":0.0006},{"x":1.12,"y":0.31,"v":0.00021},{"x":1.19,"y":0.31,"v":0.00021},{"x":1.27,"y":0.31,"v":0.00021},{"x":1.42,"y":0.31,"v":0.00021},{"x":1.5,"y":0.31,"v":0.00042},{"x":1.73,"y":0.31,"v":0.00042},{"x":1.81,"y":0.31,"v":0.0006},{"x":1.88,"y":0.31,"v":0.0006},{"x":1.96,"y":0.31,"v":0.00042},
{"x":0.19,"y":0.29,"v":0.00084},{"x":0.27,"y":0.29,"v":0.0006},{"x":0.35,"y":0.29,"v":0.00084},{"x":0.42,"y":0.29,"v":0.0006},{"x":0.5,"y":0.29,"v":0.00119},{"x":0.58,"y":0.29,"v":0.00119},{"x":0.65,"y":0.29,"v":0.00119},{"x":0.73,"y":0.29,"v":0.00119},{"x":0.81,"y":0.29,"v":0.00042},{"x":0.88,"y":0.29,"v":0.00084},{"x":0.96,"y":0.29,"v":0.00084},{"x":1.04,"y":0.29,"v":0.00042},{"x":1.35,"y":0.29,"v":0.00042},{"x":1.42,"y":0.29,"v":0.00021},{"x":1.5,"y":0.29,"v":0.00021},{"x":1.65,"y":0.29,"v":0.00042},{"x":1.73,"y":0.29,"v":0.00021},{"x":1.88,"y":0.29,"v":0.00021},{"x":1.96,"y":0.29,"v":0.00042},
{"x":0.12,"y":0.27,"v":0.0006},{"x":0.19,"y":0.27,"v":0.0006},{"x":0.27,"y":0.27,"v":0.00119},{"x":0.35,"y":0.27,"v":0.00237},{"x":0.42,"y":0.27,"v":0.00084},{"x":0.5,"y":0.27,"v":0.00168},{"x":0.58,"y":0.27,"v":0.00168},{"x":0.65,"y":0.27,"v":0.00119},{"x":0.73,"y":0.27,"v":0.00119},{"x":0.81,"y":0.27,"v":0.0006},{"x":0.88,"y":0.27,"v":0.00084},{"x":1.04,"y":0.27,"v":0.00119},{"x":1.12,"y":0.27,"v":0.00042},{"x":1.19,"y":0.27,"v":0.0006},{"x":1.27,"y":0.27,"v":0.00021},{"x":1.35,"y":0.27,"v":0.00021},{"x":1.5,"y":0.27,"v":0.00021},{"x":1.73,"y":0.27,"v":0.00021},{"x":1.88,"y":0.27,"v":0.00042},
{"x":0.19,"y":0.25,"v":0.00084},{"x":0.27,"y":0.25,"v":0.00084},{"x":0.35,"y":0.25,"v":0.00084},{"x":0.42,"y":0.25,"v":0.00237},{"x":0.5,"y":0.25,"v":0.00119},{"x":0.58,"y":0.25,"v":0.00084},{"x":0.65,"y":0.25,"v":0.00168},{"x":0.73,"y":0.25,"v":0.0006},{"x":0.81,"y":0.25,"v":0.00119},{"x":0.88,"y":0.25,"v":0.00042},{"x":0.96,"y":0.25,"v":0.0006},{"x":1.12,"y":0.25,"v":0.00042},{"x":1.19,"y":0.25,"v":0.0006},{"x":1.35,"y":0.25,"v":0.00042},{"x":1.65,"y":0.25,"v":0.00042},{"x":1.73,"y":0.25,"v":0.00042},{"x":1.96,"y":0.25,"v":0.00021},
{"x":0.12,"y":0.23,"v":0.00042},{"x":0.19,"y":0.23,"v":0.00021},{"x":0.27,"y":0.23,"v":0.00084},{"x":0.35,"y":0.23,"v":0.00168},{"x":0.42,"y":0.23,"v":0.00119},{"x":0.5,"y":0.23,"v":0.00168},{"x":0.58,"y":0.23,"v":0.00084},{"x":0.65,"y":0.23,"v":0.00084},{"x":0.73,"y":0.23,"v":0.00084},{"x":0.81,"y":0.23,"v":0.00084},{"x":0.88,"y":0.23,"v":0.0006},{"x":0.96,"y":0.23,"v":0.00119},{"x":1.04,"y":0.23,"v":0.00021},{"x":1.12,"y":0.23,"v":0.0006},{"x":1.19,"y":0.23,"v":0.00042},{"x":1.27,"y":0.23,"v":0.00042},{"x":1.35,"y":0.23,"v":0.00042},{"x":1.5,"y":0.23,"v":0.00042},{"x":1.73,"y":0.23,"v":0.00021},
{"x":0.19,"y":0.21,"v":0.00021},{"x":0.27,"y":0.21,"v":0.00084},{"x":0.35,"y":0.21,"v":0.00119},{"x":0.42,"y":0.21,"v":0.00168},{"x":0.5,"y":0.21,"v":0.00084},{"x":0.58,"y":0.21,"v":0.00084},{"x":0.65,"y":0.21,"v":0.00084},{"x":0.73,"y":0.21,"v":0.00084},{"x":0.81,"y":0.21,"v":0.00042},{"x":0.88,"y":0.21,"v":0.0006},{"x":0.96,"y":0.21,"v":0.00042},{"x":1.04,"y":0.21,"v":0.00021},{"x":1.12,"y":0.21,"v":0.00042},{"x":1.27,"y":0.21,"v":0.00021},{"x":1.42,"y":0.21,"v":0.00021},{"x":1.5,"y":0.21,"v":0.00021},{"x":1.73,"y":0.21,"v":0.00042},
{"x":0.12,"y":0.19,"v":0.00021},{"x":0.19,"y":0.19,"v":0.00042},{"x":0.27,"y":0.19,"v":0.00119},{"x":0.35,"y":0.19,"v":0.00119},{"x":0.42,"y":0.19,"v":0.00119},{"x":0.5,"y":0.19,"v":0.00084},{"x":0.58,"y":0.19,"v":0.00119},{"x":0.65,"y":0.19,"v":0.00084},{"x":0.73,"y":0.19,"v":0.00042},{"x":0.81,"y":0.19,"v":0.00042},{"x":0.96,"y":0.19,"v":0.00042},{"x":1.04,"y":0.19,"v":0.00042},{"x":1.12,"y":0.19,"v":0.0006},{"x":1.27,"y":0.19,"v":0.00021},{"x":1.58,"y":0.19,"v":0.00021},{"x":1.73,"y":0.19,"v":0.00021},{"x":1.81,"y":0.19,"v":0.00021},
{"x":0.19,"y":0.17,"v":0.0006},{"x":0.27,"y":0.17,"v":0.00084},{"x":0.35,"y":0.17,"v":0.00119},{"x":0.42,"y":0.17,"v":0.00084},{"x":0.5,"y":0.17,"v":0.00084},{"x":0.58,"y":0.17,"v":0.00084},{"x":0.65,"y":0.17,"v":0.00042},{"x":0.73,"y":0.17,"v":0.0006},{"x":0.81,"y":0.17,"v":0.0006},{"x":0.88,"y":0.17,"v":0.0006},{"x":0.96,"y":0.17,"v":0.0006},{"x":1.19,"y":0.17,"v":0.00021},{"x":1.81,"y":0.17,"v":0.00042},{"x":1.96,"y":0.17,"v":0.0006},
{"x":0.19,"y":0.15,"v":0.00042},{"x":0.27,"y":0.15,"v":0.00042},{"x":0.35,"y":0.15,"v":0.00084},{"x":0.42,"y":0.15,"v":0.00168},{"x":0.5,"y":0.15,"v":0.00084},{"x":0.58,"y":0.15,"v":0.00084},{"x":0.65,"y":0.15,"v":0.0006},{"x":0.81,"y":0.15,"v":0.00021},{"x":0.88,"y":0.15,"v":0.00042},{"x":0.96,"y":0.15,"v":0.00021},{"x":1.04,"y":0.15,"v":0.00042},{"x":1.27,"y":0.15,"v":0.00021},{"x":1.35,"y":0.15,"v":0.00042},{"x":1.65,"y":0.15,"v":0.00021},{"x":1.88,"y":0.15,"v":0.00021},
{"x":0.27,"y":0.13,"v":0.00042},{"x":0.35,"y":0.13,"v":0.0006},{"x":0.42,"y":0.13,"v":0.00084},{"x":0.5,"y":0.13,"v":0.0006},{"x":0.58,"y":0.13,"v":0.00042},{"x":0.65,"y":0.13,"v":0.0006},{"x":0.73,"y":0.13,"v":0.00021},{"x":0.81,"y":0.13,"v":0.00021},{"x":0.88,"y":0.13,"v":0.00021},{"x":1.04,"y":0.13,"v":0.00021},{"x":1.12,"y":0.13,"v":0.0006},{"x":1.19,"y":0.13,"v":0.00021},{"x":1.35,"y":0.13,"v":0.00021},{"x":1.58,"y":0.13,"v":0.00021},
{"x":0.12,"y":0.11,"v":0.0006},{"x":0.19,"y":0.11,"v":0.0006},{"x":0.27,"y":0.11,"v":0.00084},{"x":0.35,"y":0.11,"v":0.00119},{"x":0.42,"y":0.11,"v":0.00084},{"x":0.5,"y":0.11,"v":0.00084},{"x":0.58,"y":0.11,"v":0.00119},{"x":0.65,"y":0.11,"v":0.00084},{"x":0.73,"y":0.11,"v":0.00042},{"x":0.81,"y":0.11,"v":0.00042},{"x":0.88,"y":0.11,"v":0.00021},{"x":0.96,"y":0.11,"v":0.00021},{"x":1.04,"y":0.11,"v":0.00042},{"x":1.12,"y":0.11,"v":0.00042},{"x":1.19,"y":0.11,"v":0.00021},{"x":1.27,"y":0.11,"v":0.00021},{"x":1.58,"y":0.11,"v":0.00021},{"x":1.81,"y":0.11,"v":0.00021},{"x":1.96,"y":0.11,"v":0.00021},
{"x":0.27,"y":0.09,"v":0.00042},{"x":0.35,"y":0.09,"v":0.00084},{"x":0.42,"y":0.09,"v":0.00042},{"x":0.5,"y":0.09,"v":0.00042},{"x":0.58,"y":0.09,"v":0.00168},{"x":0.65,"y":0.09,"v":0.0006},{"x":0.73,"y":0.09,"v":0.00042},{"x":0.81,"y":0.09,"v":0.00042},{"x":0.88,"y":0.09,"v":0.00084},{"x":0.96,"y":0.09,"v":0.0006},{"x":1.12,"y":0.09,"v":0.00021},{"x":1.42,"y":0.09,"v":0.00042},{"x":1.96,"y":0.09,"v":0.00021},
{"x":0.04,"y":0.07,"v":0.00084},{"x":0.19,"y":0.07,"v":0.00042},{"x":0.27,"y":0.07,"v":0.00119},{"x":0.35,"y":0.07,"v":0.0006},{"x":0.42,"y":0.07,"v":0.00119},{"x":0.5,"y":0.07,"v":0.00084},{"x":0.58,"y":0.07,"v":0.00084},{"x":0.65,"y":0.07,"v":0.00042},{"x":0.73,"y":0.07,"v":0.00042},{"x":0.81,"y":0.07,"v":0.00119},{"x":0.96,"y":0.07,"v":0.00021},{"x":1.19,"y":0.07,"v":0.00021},{"x":1.35,"y":0.07,"v":0.00042},{"x":1.42,"y":0.07,"v":0.00042},{"x":1.73,"y":0.07,"v":0.00021},{"x":1.81,"y":0.07,"v":0.00021},
{"x":0.19,"y":0.05,"v":0.00042},{"x":0.27,"y":0.05,"v":0.00042},{"x":0.42,"y":0.05,"v":0.00042},{"x":0.5,"y":0.05,"v":0.00084},{"x":0.58,"y":0.05,"v":0.00084},{"x":0.65,"y":0.05,"v":0.00084},{"x":0.73,"y":0.05,"v":0.00084},{"x":0.81,"y":0.05,"v":0.00084},{"x":0.88,"y":0.05,"v":0.0006},{"x":1.04,"y":0.05,"v":0.00021},{"x":1.19,"y":0.05,"v":0.00042},{"x":1.81,"y":0.05,"v":0.00021},
{"x":0.19,"y":0.03,"v":0.00042},{"x":0.27,"y":0.03,"v":0.00084},{"x":0.35,"y":0.03,"v":0.00042},{"x":0.42,"y":0.03,"v":0.00084},{"x":0.5,"y":0.03,"v":0.00042},{"x":0.58,"y":0.03,"v":0.00084},{"x":0.65,"y":0.03,"v":0.00084},{"x":0.73,"y":0.03,"v":0.00021},{"x":0.81,"y":0.03,"v":0.00042},{"x":0.96,"y":0.03,"v":0.00119},{"x":1.12,"y":0.03,"v":0.00021},{"x":1.5,"y":0.03,"v":0.00021},
{"x":0.58,"y":0.01,"v":0.00042}
]},
"mark":{"type":"rect","stroke":null},
"encoding":{"x":{"field":"x","type":"quantitative","bin":{"extent":[0,2],"step":0.07692307692307693,"nice":false},"scale":{"domain":[0,2],"nice":false,"zero":false},
"axis":{"title":"Ehad (GeV)","titleFontSize":20.5,"titleAnchor":"end","titleAlign":"right","titlePadding":0,"values":[0,0.05,0.1,0.15,0.2,0.25,0.3,0.35,0.4,0.45,0.5,0.55,0.6,0.65,0.7,0.75,0.8,0.85,0.9,0.95,1,1.05,1.1,1.15,1.2,1.25,1.3,1.35,1.4,1.45,1.5,1.55,1.6,1.65,1.7,1.75,1.8,1.85,1.9,1.95,2],"labelExpr":"abs(datum.value*5-round(datum.value*5))<0.001 ? format(datum.value,'~g') : ''","labelOverlap":false,"labelFlush":false,"labelBound":false,"labelPadding":23,"tickSize":{"condition":{"test":"abs(datum.value*5-round(datum.value*5))<0.001","value":-18},"value":-9}}},
"y":{"field":"y","type":"quantitative","bin":{"extent":[0,1],"step":0.02,"nice":false},"scale":{"domain":[0,1],"nice":false,"zero":false},
"axis":{"title":"Contained/Ehad","titleFontSize":24,"titleAnchor":"end","titleAlign":"right","titlePadding":8,"values":[0,0.02,0.04,0.06,0.08,0.1,0.12,0.14,0.16,0.18,0.2,0.22,0.24,0.26,0.28,0.3,0.32,0.34,0.36,0.38,0.4,0.42,0.44,0.46,0.48,0.5,0.52,0.54,0.56,0.58,0.6,0.62,0.64,0.66,0.68,0.7,0.72,0.74,0.76,0.78,0.8,0.82,0.84,0.86,0.88,0.9,0.92,0.94,0.96,0.98,1],"labelExpr":"abs(datum.value*10-round(datum.value*10))<0.001 ? format(datum.value,'~g') : ''","labelOverlap":false,"labelFlush":false,"labelBound":false,"labelPadding":29,"tickSize":{"condition":{"test":"abs(datum.value*10-round(datum.value*10))<0.001","value":-24},"value":-11}}},
"color":{"field":"v","type":"quantitative","legend":null,"scale":{"type":"threshold","domain":[0.0001786,0.000252,0.000356,0.000502,0.000709,0.001,0.001413,0.001995,0.00282,0.00398,0.00562,0.00793,0.0112,0.0158,0.0223,0.0315,0.0444,0.0627,0.0885],"range":["#1a0000","#2d0000","#440000","#600000","#7c0000","#9a1c00","#b23a00","#cc5200","#e46e00","#ff8c00","#ffa500","#ffba00","#ffcd00","#ffe100","#ffff00","#ffff25","#ffff55","#ffff90","#ffffcc","#ffffff"]}}}},
{"data":{"values":[{"x":2}]},"mark":{"type":"rule","color":"#444","strokeWidth":1.5},"encoding":{"x":{"field":"x","type":"quantitative"}}}]},
{"width":45,"height":610,
"data":{"values":[{"lo":0.0001265,"hi":0.0001786,"v":0.00015},{"lo":0.0001786,"hi":0.000252,"v":0.00021},{"lo":0.000252,"hi":0.000356,"v":0.0003},{"lo":0.000356,"hi":0.000502,"v":0.00042},{"lo":0.000502,"hi":0.000709,"v":0.0006},{"lo":0.000709,"hi":0.001,"v":0.00084},{"lo":0.001,"hi":0.001413,"v":0.00119},{"lo":0.001413,"hi":0.001995,"v":0.00168},{"lo":0.001995,"hi":0.00282,"v":0.00237},{"lo":0.00282,"hi":0.00398,"v":0.00334},{"lo":0.00398,"hi":0.00562,"v":0.00472},{"lo":0.00562,"hi":0.00793,"v":0.00667},{"lo":0.00793,"hi":0.0112,"v":0.00942},{"lo":0.0112,"hi":0.0158,"v":0.0133},{"lo":0.0158,"hi":0.0223,"v":0.0188},{"lo":0.0223,"hi":0.0315,"v":0.0265},{"lo":0.0315,"hi":0.0444,"v":0.0374},{"lo":0.0444,"hi":0.0627,"v":0.0528},{"lo":0.0627,"hi":0.0885,"v":0.0745},{"lo":0.0885,"hi":0.125,"v":0.105}]},
"mark":{"type":"rect"},
"encoding":{"y":{"field":"lo","type":"quantitative","title":null,"scale":{"type":"log","domain":[0.0001265,0.125],"nice":false},
"axis":{"orient":"right","domainWidth":1.5,"values":[0.0002,0.0003,0.0004,0.0005,0.0006,0.0007,0.0008,0.0009,0.001,0.002,0.003,0.004,0.005,0.006,0.007,0.008,0.009,0.01,0.02,0.03,0.04,0.05,0.06,0.07,0.08,0.09,0.1],"labelExpr":"(datum.value==0.001||datum.value==0.01||datum.value==0.1) ? '10⁻' : ''","labelOverlap":false,"labelFlush":false,"labelBound":false,"labelFontSize":20,"labelPadding":33,"tickSize":{"condition":{"test":"datum.value==0.001||datum.value==0.01||datum.value==0.1","value":-24},"value":-13}}},
"y2":{"field":"hi"},
"color":{"field":"v","type":"quantitative","legend":null,"scale":{"type":"threshold","domain":[0.0001786,0.000252,0.000356,0.000502,0.000709,0.001,0.001413,0.001995,0.00282,0.00398,0.00562,0.00793,0.0112,0.0158,0.0223,0.0315,0.0444,0.0627,0.0885],"range":["#1a0000","#2d0000","#440000","#600000","#7c0000","#9a1c00","#b23a00","#cc5200","#e46e00","#ff8c00","#ffa500","#ffba00","#ffcd00","#ffe100","#ffff00","#ffff25","#ffff55","#ffff90","#ffffcc","#ffffff"]}}}}],
"resolve":{"scale":{"color":"independent"}}}
